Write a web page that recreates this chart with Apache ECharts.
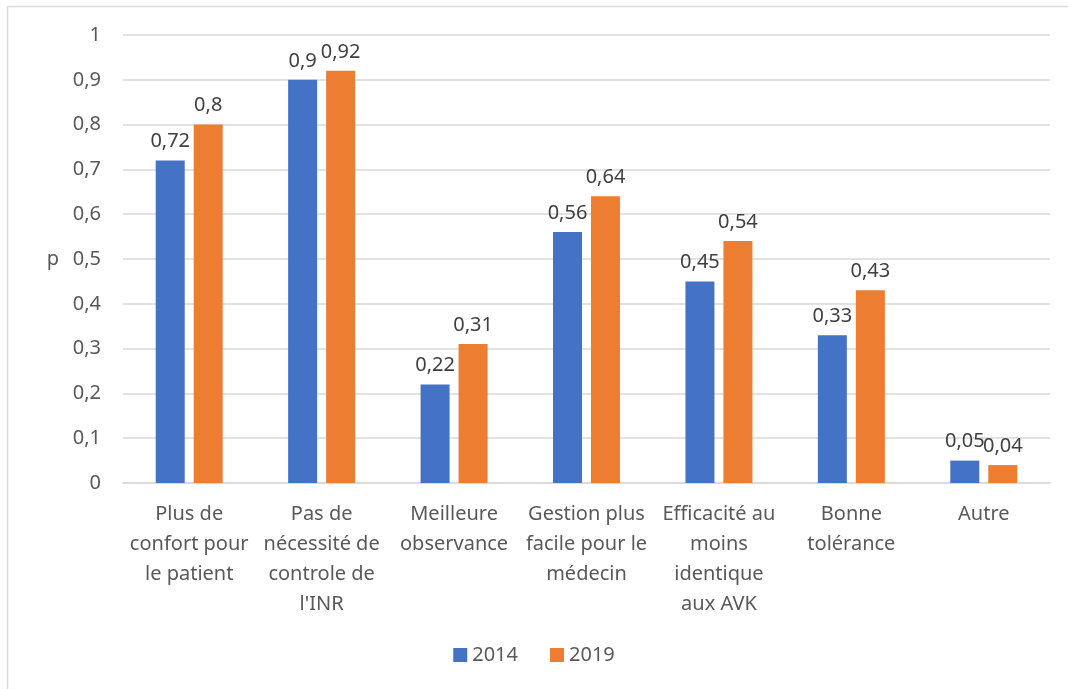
<!DOCTYPE html>
<html>
<head>
<meta charset="utf-8">
<script src="https://cdn.jsdelivr.net/npm/echarts@6/dist/echarts.min.js"></script>
<style>
  html, body { margin: 0; padding: 0; background: #fff; }
  #chart { width: 1068px; height: 689px; }
</style>
</head>
<body>
<div id="chart"></div>
<script>
const categories = [
  'Plus de\nconfort pour\nle patient',
  'Pas de\nnécessité de\ncontrole de\nl\'INR',
  'Meilleure\nobservance',
  'Gestion plus\nfacile pour le\nmédecin',
  'Efficacité au\nmoins\nidentique\naux AVK',
  'Bonne\ntolérance',
  'Autre'
]
const values2014 = [0.72, 0.9, 0.22, 0.56, 0.45, 0.33, 0.05]
const values2019 = [0.8, 0.92, 0.31, 0.64, 0.54, 0.43, 0.04]
const seriesNames = ['2014', '2019']

const fontFamily = 'Noto Sans'
const comma = (v) => String(v).replace('.', ',')

const chart = echarts.init(document.getElementById('chart'))
chart.setOption({
  backgroundColor: '#fff',
  animation: false,
  textStyle: { fontFamily: fontFamily },
  graphic: [
    {
      // cadre du graphique (coupé en bas et à droite)
      type: 'rect',
      shape: { x: 7.5, y: 6.5, width: 1100, height: 700 },
      style: { fill: 'none', stroke: '#d9d9d9', lineWidth: 1.5 }
    }
  ],
  legend: {
    bottom: 19,
    left: 'center',
    itemWidth: 14,
    itemHeight: 14,
    itemGap: 32,
    icon: 'rect',
    textStyle: { fontSize: 20, color: '#595959', fontFamily: fontFamily },
    data: seriesNames
  },
  grid: {
    top: 35,
    left: 123,
    right: 18,
    bottom: 206
  },
  xAxis: {
    type: 'category',
    data: categories,
    axisLine: { lineStyle: { color: '#d9d9d9', width: 1.5 } },
    axisTick: { show: false },
    axisLabel: {
      interval: 0,
      margin: 16,
      fontSize: 20,
      lineHeight: 30,
      color: '#595959',
      fontFamily: fontFamily
    }
  },
  yAxis: {
    type: 'value',
    min: 0,
    max: 1,
    interval: 0.1,
    name: 'p',
    nameLocation: 'middle',
    nameRotate: 0,
    nameGap: 64,
    nameTextStyle: { fontSize: 20, color: '#595959', fontFamily: fontFamily },
    axisLine: { show: false },
    axisTick: { show: false },
    splitLine: { lineStyle: { color: '#d9d9d9', width: 1.5 } },
    axisLabel: {
      margin: 22,
      fontSize: 20,
      color: '#595959',
      fontFamily: fontFamily,
      formatter: (v) => comma(Math.round(v * 10) / 10)
    }
  },
  series: [
    {
      name: seriesNames[0],
      type: 'bar',
      data: values2014,
      barWidth: 29,
      barGap: '31%',
      itemStyle: { color: '#4472C4' },
      label: {
        show: true,
        position: 'top',
        distance: 9,
        fontSize: 20,
        color: '#404040',
        fontFamily: fontFamily,
        formatter: (p) => comma(p.value)
      }
    },
    {
      name: seriesNames[1],
      type: 'bar',
      data: values2019,
      barWidth: 29,
      itemStyle: { color: '#ED7D31' },
      label: {
        show: true,
        position: 'top',
        distance: 9,
        fontSize: 20,
        color: '#404040',
        fontFamily: fontFamily,
        formatter: (p) => comma(p.value)
      }
    }
  ]
})
</script>
</body>
</html>
